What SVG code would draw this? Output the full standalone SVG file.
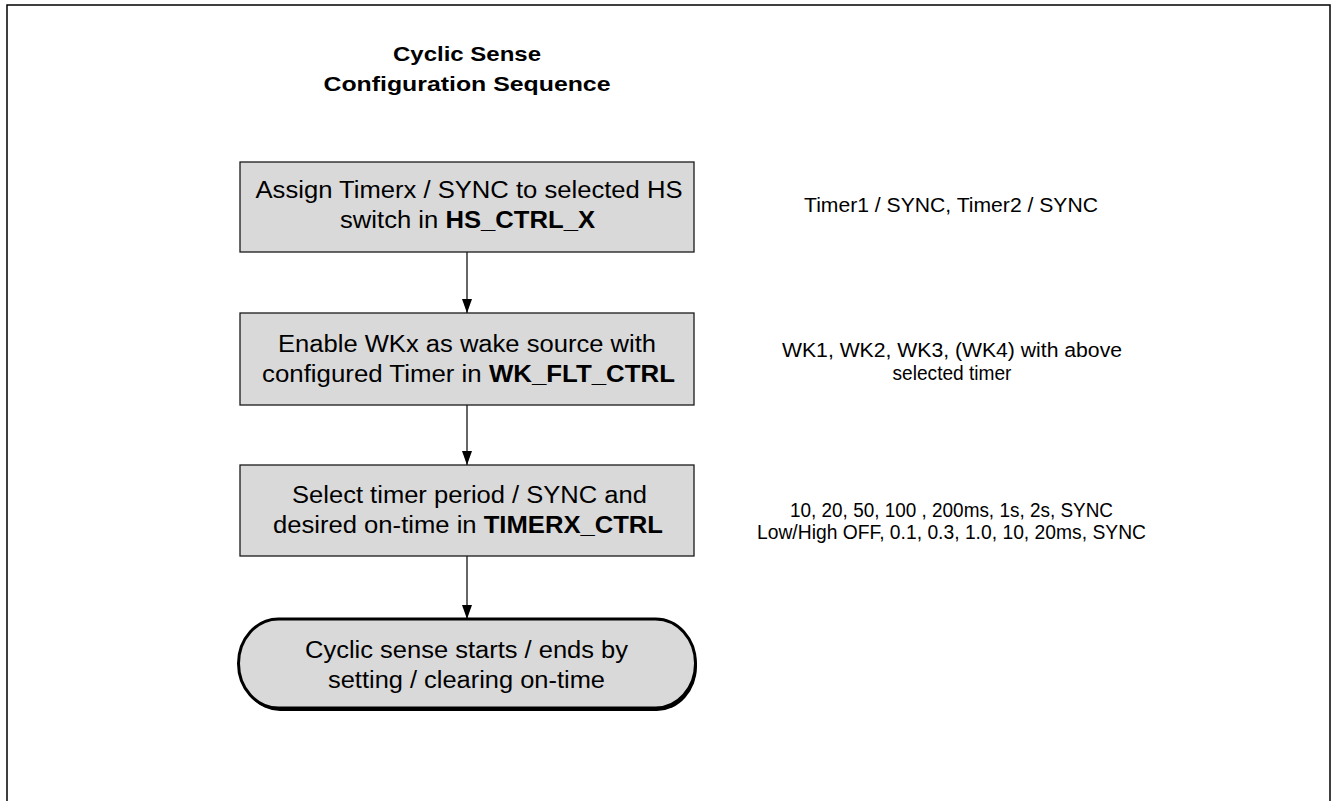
<svg xmlns="http://www.w3.org/2000/svg" width="1332" height="801" viewBox="0 0 1332 801">
<defs>
<style>
.t{font-family:"Liberation Sans",Arial,sans-serif;fill:#000}
.bx{font-size:23px;text-anchor:middle}
.side{font-size:19.5px;text-anchor:middle}
.title{font-size:21px;font-weight:bold;text-anchor:middle}
.b{font-weight:bold}
.box{fill:#d9d9d9;stroke:#1a1a1a;stroke-width:1.3}
.con{stroke:#000;stroke-width:1.2;fill:none}
</style>
<marker id="ah" viewBox="0 0 14 10" refX="14" refY="5" markerWidth="14" markerHeight="10" markerUnits="userSpaceOnUse" orient="auto">
<path d="M0,0 L14,5 L0,10 Z" fill="#000"/>
</marker>
</defs>
<rect width="1332" height="801" fill="#fff"/>
<path d="M7,801 V5 H1330 V801" fill="none" stroke="#000" stroke-width="1.5"/>
<g id="title">
<text class="t title" x="467" y="61" textLength="148" lengthAdjust="spacingAndGlyphs">Cyclic Sense</text>
<text class="t title" x="467" y="91" textLength="287" lengthAdjust="spacingAndGlyphs">Configuration Sequence</text>
</g>
<g id="connectors">
<path class="con" d="M467,252 V313" marker-end="url(#ah)"/>
<path class="con" d="M467,405 V465" marker-end="url(#ah)"/>
<path class="con" d="M467,556 V619" marker-end="url(#ah)"/>
</g>
<g id="n1">
<rect class="box" x="240" y="162" width="454" height="90"/>
<text class="t bx" x="469" y="198" textLength="427" lengthAdjust="spacingAndGlyphs">Assign Timerx / SYNC to selected HS</text>
<text class="t bx" x="467.5" y="228" textLength="255" lengthAdjust="spacingAndGlyphs">switch in <tspan class="b">HS_CTRL_X</tspan></text>
</g>
<g id="n2">
<rect class="box" x="240" y="313" width="454" height="92"/>
<text class="t bx" x="467" y="352" textLength="378" lengthAdjust="spacingAndGlyphs">Enable WKx as wake source with</text>
<text class="t bx" x="468.5" y="382" textLength="413" lengthAdjust="spacingAndGlyphs">configured Timer in <tspan class="b">WK_FLT_CTRL</tspan></text>
</g>
<g id="n3">
<rect class="box" x="240" y="465" width="454" height="91"/>
<text class="t bx" x="469.5" y="503" textLength="355" lengthAdjust="spacingAndGlyphs">Select timer period / SYNC and</text>
<text class="t bx" x="468" y="533" textLength="390" lengthAdjust="spacingAndGlyphs">desired on-time in <tspan class="b">TIMERX_CTRL</tspan></text>
</g>
<g id="n4">
<rect x="240" y="621" width="457" height="90" rx="40" ry="45" fill="#000"/>
<rect x="238.5" y="619" width="457" height="89" rx="40" ry="44.5" fill="#d9d9d9" stroke="#000" stroke-width="3"/>
<text class="t bx" x="466.5" y="658" textLength="323" lengthAdjust="spacingAndGlyphs">Cyclic sense starts / ends by</text>
<text class="t bx" x="466.5" y="688" textLength="277" lengthAdjust="spacingAndGlyphs">setting / clearing on-time</text>
</g>
<g id="notes">
<text class="t side" x="951" y="212" textLength="294" lengthAdjust="spacingAndGlyphs">Timer1 / SYNC, Timer2 / SYNC</text>
<text class="t side" x="952" y="357" textLength="340" lengthAdjust="spacingAndGlyphs">WK1, WK2, WK3, (WK4) with above</text>
<text class="t side" x="952" y="380" textLength="119" lengthAdjust="spacingAndGlyphs">selected timer</text>
<text class="t side" x="951.5" y="517" textLength="323" lengthAdjust="spacingAndGlyphs">10, 20, 50, 100 , 200ms, 1s, 2s, SYNC</text>
<text class="t side" x="951.5" y="539" textLength="389" lengthAdjust="spacingAndGlyphs">Low/High OFF, 0.1, 0.3, 1.0, 10, 20ms, SYNC</text>
</g>
</svg>
